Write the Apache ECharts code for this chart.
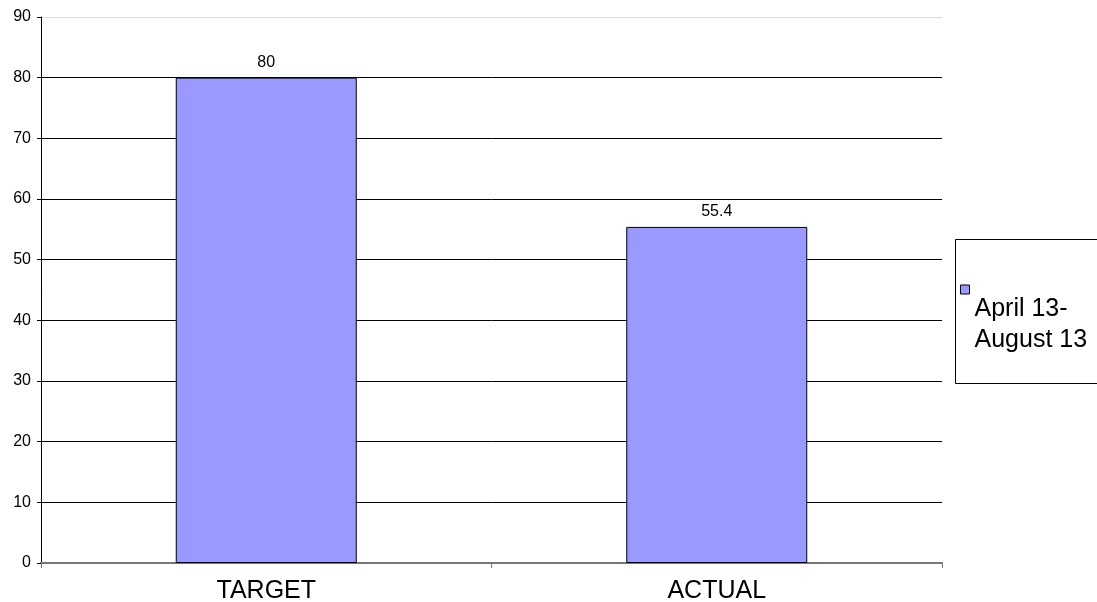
<!DOCTYPE html>
<html>
<head>
<meta charset="utf-8">
<script src="https://cdn.jsdelivr.net/npm/echarts@6/dist/echarts.min.js"></script>
<style>
html,body{margin:0;padding:0;background:#fff;}
#c{width:1097px;height:602px;}
</style>
</head>
<body>
<div id="c"></div>
<script>
const categories = ['TARGET', 'ACTUAL'];
const seriesName = 'April 13-\nAugust 13';
const values = [80, 55.4];
const yTicks = { min: 0, max: 90, interval: 10 };

const chart = echarts.init(document.getElementById('c'), null, { renderer: 'canvas' });
const font = 'Arial, "Liberation Sans", sans-serif';
chart.setOption({
  animation: false,
  backgroundColor: '#fff',
  grid: { left: 41, right: 155, top: 17, bottom: 39, containLabel: false, outerBoundsMode: 'none' },
  legend: {
    show: true,
    left: 960,
    top: 223,
    padding: 0,
    itemWidth: 9,
    itemHeight: 9,
    icon: 'rect',
    itemStyle: { color: '#9999FF', borderColor: '#000', borderWidth: 1 },
    formatter: function (name) {
      return '{p|}\n' + name.split('\n').map(function (s) { return '{t|' + s + '}'; }).join('\n');
    },
    textStyle: {
      fontFamily: font, fontSize: 25, color: '#000',
      rich: {
        p: { height: 71, lineHeight: 71, fontSize: 25 },
        t: { fontFamily: font, fontSize: 25, lineHeight: 31, color: '#000' }
      }
    },
    data: [seriesName]
  },
  graphic: [{
    type: 'rect',
    shape: { x: 955.5, y: 239.5, width: 200, height: 144 },
    style: { fill: 'none', stroke: '#000', lineWidth: 1 },
    z: -1
  }],
  xAxis: {
    type: 'category',
    data: categories,
    boundaryGap: true,
    axisLine: { show: true, lineStyle: { color: '#777', width: 2 } },
    axisTick: { show: true, length: 5, lineStyle: { color: '#777', width: 1 } },
    axisLabel: { fontFamily: font, fontSize: 25, color: '#000', margin: 16 },
    splitLine: { show: false }
  },
  yAxis: {
    type: 'value',
    min: yTicks.min,
    max: yTicks.max,
    interval: yTicks.interval,
    axisLine: { show: true, lineStyle: { color: '#000', width: 1 } },
    axisTick: { show: true, inside: false, length: 4, lineStyle: { color: '#000' } },
    axisLabel: { fontFamily: font, fontSize: 16, color: '#000', margin: 10 },
    splitLine: { show: true, lineStyle: { color: ['#000','#000','#000','#000','#000','#000','#000','#000','#000','#ddd'], width: 1 } }
  },
  series: [{
    name: seriesName,
    type: 'bar',
    data: values,
    barWidth: 181,
    itemStyle: { color: '#9999FF', borderColor: '#000', borderWidth: 1 },
    label: { show: true, position: 'top', distance: 7, fontFamily: font, fontSize: 16, color: '#000' }
  }]
});
</script>
</body>
</html>
